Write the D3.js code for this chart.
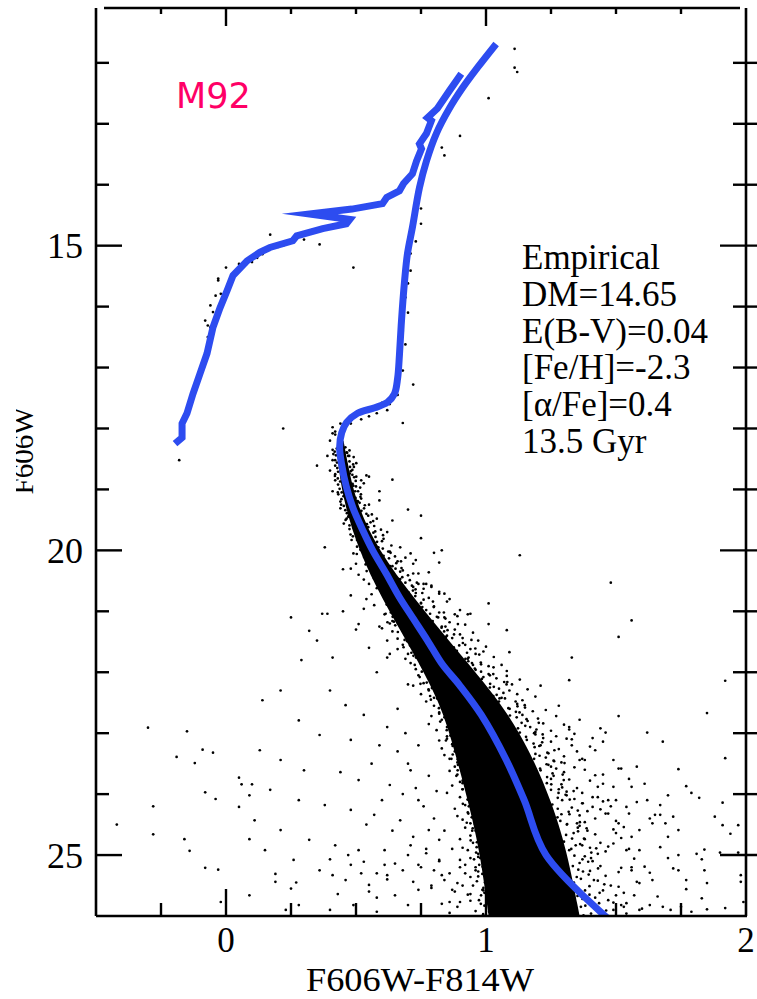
<!DOCTYPE html>
<html>
<head>
<meta charset="utf-8">
<script src="https://cdn.jsdelivr.net/npm/d3@7/dist/d3.min.js"></script>
<style>
  html, body { margin: 0; padding: 0; background: #fff; }
  svg { display: block; }
</style>
</head>
<body>
<svg id="cmd" width="757" height="999"></svg>
<script>
// ---- Axis settings ----
const colourDomain = [-0.5, 2.0];
const magDomain = [11.1, 26.0];
const colourTickLabels = [0, 1, 2];
const magTickLabels = [15, 20, 25];
const colourMinorTicks = [-0.25, 0, 0.25, 0.5, 0.75, 1, 1.25, 1.5, 1.75];
const magMinorTicks = [12, 13, 14, 15, 16, 17, 18, 19, 20, 21, 22, 23, 24, 25];

// ---- Isochrone: main sequence, subgiant and red giant branch ----
const isoColour = [1.519, 1.231, 1.147, 1.078, 0.982, 0.898, 0.832, 0.775, 0.717, 0.667, 0.616, 0.564,
  0.526, 0.487, 0.463, 0.444, 0.437, 0.445, 0.464, 0.506, 0.572, 0.621, 0.648, 0.660, 0.667, 0.675,
  0.687, 0.698, 0.717, 0.744, 0.771, 0.809, 0.859, 0.910, 0.967, 1.039];
const isoMag = [26.23, 25.0, 24.10, 23.44, 22.70, 22.21, 21.87, 21.48, 21.10, 20.77, 20.38, 20.00,
  19.67, 19.29, 18.96, 18.57, 18.31, 18.07, 17.90, 17.75, 17.66, 17.57, 17.43, 17.18, 16.80, 16.23,
  15.57, 15.13, 14.70, 14.05, 13.61, 13.16, 12.75, 12.41, 12.08, 11.69];

// ---- Isochrone: asymptotic giant branch and horizontal branch ----
const hbColour = [0.905, 0.859, 0.813, 0.775, 0.790, 0.771, 0.744, 0.752, 0.733, 0.717, 0.683, 0.667,
  0.618, 0.602, 0.484, 0.322, 0.476, 0.463, 0.372, 0.272, 0.257, 0.169, 0.130, 0.081, 0.027, 0.004,
  -0.023, -0.050, -0.073, -0.100, -0.127, -0.150, -0.169, -0.169, -0.196];
const hbMag = [12.18, 12.46, 12.75, 12.90, 12.95, 13.16, 13.33, 13.41, 13.61, 13.82, 13.98, 14.10,
  14.21, 14.31, 14.40, 14.48, 14.57, 14.64, 14.72, 14.84, 14.92, 15.03, 15.11, 15.25, 15.49, 15.74,
  16.02, 16.34, 16.77, 17.10, 17.43, 17.75, 17.92, 18.15, 18.25];

// ---- Crowded main-sequence core (stars merge into solid black) ----
const coreMag  = [18.2, 18.5, 19.2, 20.0, 20.8, 21.6, 22.5, 23.3, 24.1, 24.9, 26.0];
const coreBlue = [0.428, 0.428, 0.452, 0.51, 0.60, 0.71, 0.825, 0.88, 0.93, 0.975, 1.01];
const coreRed  = [0.452, 0.465, 0.498, 0.585, 0.725, 0.88, 1.06, 1.17, 1.25, 1.31, 1.36];

// ---- Stars: [F606W-F814W, F606W] ----
const giantStars = [[1.11,11.77],[1.11,12.08],[1.12,12.15],[1.01,12.58],[0.90,13.20],[0.83,13.39],[0.84,13.52],
  [0.75,14.39],[0.75,14.64],[0.73,14.93],[0.71,15.13],[0.71,15.41],[0.70,15.62],[0.69,15.85],[0.70,16.10],
  [0.68,16.40],[0.69,16.62],[0.67,16.95],[0.66,17.20],[0.65,17.35],[0.63,17.50],[0.60,17.58],[0.58,17.62],
  [0.66,17.45],[0.68,17.05],[0.72,17.28],[0.55,17.70],[0.52,17.74],[0.50,17.80],
  [0.17,14.82],[0.16,15.03],[0.22,15.00],[0.36,14.98],[0.12,15.20],[0.08,15.30],[0.10,15.27],[0.00,15.36],
  [-0.03,15.54],[0.49,15.36],[-0.03,15.57],[-0.02,15.79],[-0.04,15.82],[-0.06,15.98],[-0.05,16.09],
  [-0.08,16.23],[-0.07,16.31],[-0.06,16.34],[-0.07,16.50],[-0.18,18.52],[0.05,15.30],[0.14,15.14],
  [0.20,15.02],[0.24,14.95],[0.30,14.90],[0.22,18.00]];

const turnoffStars = [[0.41,18.08],[0.42,18.10],[0.35,18.61],[0.41,18.52],[0.40,18.69],[0.42,18.85],[0.41,19.03],
  [0.44,19.31],[0.38,19.95],[0.45,20.31],[0.48,20.74],[0.37,21.04],[0.39,21.04],[0.32,21.32],[0.53,20.96],
  [0.51,21.21],[0.41,21.76],[0.59,21.25],[0.62,21.48],[0.62,21.76],[0.55,18.79],[0.64,18.84],[0.59,19.03],
  [0.70,19.33],[0.75,19.43],[0.75,19.80],[0.80,20.04],[0.83,20.00],[0.82,20.20],[0.78,20.36],[0.77,20.55],
  [0.82,20.71],[0.84,20.71],[0.90,20.98],[0.94,21.04],[1.01,20.87],[1.01,21.21],[1.08,21.31],[1.09,21.67],
  [1.13,20.08],[0.68,17.91],[0.54,18.77],[0.59,19.18],[0.64,19.51],[0.67,19.95],[0.73,20.16],[0.72,20.38],
  [0.76,20.55],[0.79,20.60],[0.86,20.80],[0.88,21.05],
  [0.41,18.35],[0.42,18.75],[0.43,19.05],[0.47,19.45],[0.49,19.62],[0.51,19.80],[0.47,18.45],[0.48,18.70],
  [0.50,18.95],[0.52,19.15],[0.54,19.40],[0.57,19.60],[0.60,19.85],[0.44,19.20],[0.46,19.50],[0.53,18.90],
  [0.55,19.25],[0.58,19.48],[0.62,19.70],[0.40,18.20],[0.39,18.45],[0.42,18.05],[0.45,18.00],[0.48,17.92],
  [0.52,17.85],[0.55,17.80],[0.58,17.75],[0.62,17.70],[0.63,17.60],[0.41,17.98],[0.44,17.92]];

// stars along the ragged edges of the crowded core
const edgeStars = [
  [.426,18.33],[.418,18.38],[.459,18.31],[.475,18.36],[.464,18.39],[.423,18.44],[.413,18.42],[.491,18.47],[.474,18.45],[.466,18.40],
  [.427,18.56],[.420,18.52],[.489,18.59],[.475,18.54],[.501,18.57],[.420,18.61],[.428,18.65],[.486,18.68],[.477,18.63],[.492,18.63],
  [.419,18.78],[.431,18.71],[.486,18.76],[.501,18.79],[.476,18.74],[.430,18.82],[.439,18.87],[.520,18.85],[.493,18.80],[.499,18.86],
  [.431,18.92],[.437,18.99],[.490,18.94],[.516,18.97],[.487,18.91],[.445,19.05],[.432,19.08],[.508,19.03],[.497,19.03],[.519,19.08],
  [.452,19.11],[.444,19.16],[.506,19.19],[.498,19.14],[.517,19.12],[.453,19.27],[.443,19.25],[.508,19.20],[.534,19.26],[.514,19.22],
  [.465,19.39],[.459,19.34],[.516,19.37],[.531,19.31],[.521,19.35],[.464,19.48],[.472,19.43],[.547,19.43],[.522,19.48],[.561,19.41],
  [.453,19.56],[.475,19.59],[.556,19.54],[.566,19.52],[.542,19.57],[.475,19.65],[.491,19.60],[.596,19.66],[.547,19.62],[.574,19.69],
  [.479,19.74],[.488,19.77],[.567,19.71],[.604,19.75],[.575,19.78],[.504,19.83],[.483,19.83],[.571,19.88],[.606,19.81],[.581,19.86],
  [.517,19.99],[.504,19.94],[.636,19.92],[.603,19.97],[.586,19.95],[.521,20.00],[.503,20.06],[.624,20.02],[.606,20.09],[.633,20.04],
  [.542,20.17],[.531,20.11],[.605,20.15],[.673,20.18],[.627,20.13],[.537,20.23],[.553,20.28],[.655,20.21],[.631,20.26],[.675,20.29],
  [.541,20.34],[.563,20.32],[.643,20.37],[.670,20.35],[.652,20.30],[.569,20.46],[.585,20.42],[.707,20.49],[.678,20.44],[.663,20.47],
  [.578,20.51],[.587,20.55],[.715,20.58],[.690,20.53],[.734,20.53],[.608,20.68],[.587,20.61],[.719,20.66],[.702,20.69],[.729,20.64],
  [.627,20.72],[.614,20.77],[.728,20.75],[.755,20.70],[.710,20.76],[.636,20.82],[.618,20.89],[.796,20.84],[.750,20.87],[.760,20.81],
  [.659,20.95],[.648,20.98],[.755,20.93],[.799,20.93],[.750,20.98],[.645,21.01],[.667,21.06],[.811,21.09],[.785,21.04],[.838,21.02],
  [.646,21.17],[.677,21.15],[.816,21.10],[.795,21.16],[.844,21.12],[.681,21.29],[.703,21.24],[.829,21.27],[.892,21.21],[.844,21.25],
  [.688,21.38],[.702,21.33],[.839,21.33],[.877,21.38],[.852,21.31],[.728,21.46],[.697,21.49],[.910,21.44],[.846,21.42],[.944,21.47],
  [.748,21.55],[.730,21.50],[.897,21.56],[.911,21.52],[.876,21.59],[.757,21.64],[.732,21.67],[.959,21.61],[.888,21.65],[.927,21.68],
  [.780,21.73],[.764,21.73],[.921,21.78],[.974,21.71],[.933,21.76],[.766,21.89],[.788,21.84],[.932,21.82],[.981,21.87],[.946,21.85],
  [.764,21.90],[.795,21.96],[1.029,21.92],[.981,21.99],[.957,21.94],[.796,22.07],[.818,22.01],[1.015,22.05],[.990,22.08],[1.028,22.03],
  [.802,22.13],[.816,22.18],[.984,22.11],[1.082,22.16],[1.016,22.19],[.839,22.24],[.808,22.22],[1.050,22.27],[1.015,22.25],[1.079,22.20],
  [.857,22.36],[.839,22.32],[1.028,22.39],[1.067,22.34],[1.041,22.37],[.864,22.41],[.839,22.45],[1.114,22.48],[1.073,22.43],[1.052,22.43],
  [.887,22.58],[.871,22.51],[1.121,22.56],[1.086,22.59],[1.149,22.54],[.867,22.62],[.889,22.67],[1.115,22.65],[1.091,22.60],[1.129,22.66],
  [.859,22.72],[.890,22.79],[1.118,22.74],[1.156,22.77],[1.092,22.71],[.886,22.85],[.908,22.88],[1.203,22.83],[1.137,22.83],[1.151,22.88],
  [.885,22.91],[.899,22.96],[1.130,22.99],[1.194,22.94],[1.123,22.92],[.915,23.07],[.878,23.05],[1.185,23.00],[1.154,23.06],[1.218,23.02],
  [.928,23.19],[.906,23.14],[1.183,23.17],[1.157,23.11],[1.216,23.15],[.927,23.28],[.897,23.23],[1.187,23.23],[1.263,23.28],[1.205,23.21],
  [.946,23.36],[.927,23.39],[1.190,23.34],[1.236,23.32],[1.206,23.37],[.919,23.45],[.945,23.40],[1.262,23.46],[1.185,23.42],[1.302,23.49],
  [.908,23.54],[.945,23.57],[1.233,23.51],[1.250,23.55],[1.208,23.58],[.937,23.63],[.963,23.63],[1.295,23.68],[1.210,23.61],[1.256,23.66],
  [.933,23.79],[.950,23.74],[1.235,23.72],[1.299,23.77],[1.250,23.75],[.968,23.80],[.931,23.86],[1.234,23.82],[1.293,23.89],[1.251,23.84],
  [.981,23.97],[.959,23.91],[1.337,23.95],[1.279,23.98],[1.250,23.93],[.978,24.03],[.948,24.08],[1.306,24.01],[1.276,24.06],[1.322,24.09],
  [.996,24.14],[.977,24.12],[1.255,24.17],[1.372,24.15],[1.293,24.10],[.968,24.26],[.994,24.22],[1.318,24.29],[1.276,24.24],[1.353,24.27],
  [.955,24.31],[.992,24.35],[1.275,24.38],[1.321,24.33],[1.290,24.33],[.983,24.48],[1.009,24.41],[1.361,24.46],[1.312,24.49],[1.286,24.44],
  [.978,24.52],[.995,24.57],[1.353,24.55],[1.311,24.50],[1.387,24.56],[1.012,24.62],[.975,24.69],[1.337,24.64],[1.308,24.67],[1.354,24.61],
  [1.023,24.75],[1.001,24.78],[1.331,24.73],[1.377,24.73],[1.300,24.78],[1.019,24.81],[.989,24.86],[1.424,24.89],[1.345,24.84],[1.362,24.82],
  [1.036,24.97],[1.017,24.95],[1.328,24.90],[1.405,24.96],[1.320,24.92],[1.006,25.09],[1.032,25.04],[1.371,25.07],[1.340,25.01],[1.404,25.05],
  [.990,25.18],[1.027,25.13],[1.360,25.13],[1.334,25.18],[1.393,25.11],[1.016,25.26],[1.042,25.29],[1.355,25.24],[1.431,25.22],[1.373,25.27],
  [1.009,25.35],[1.026,25.30],[1.349,25.36],[1.395,25.32],[1.365,25.39],[1.041,25.44],[1.004,25.47],[1.415,25.41],[1.338,25.45],[1.455,25.48],
  [1.050,25.53],[1.028,25.53],[1.381,25.58],[1.398,25.51],[1.356,25.56],[1.043,25.69],[1.013,25.64],[1.437,25.62],[1.352,25.67],[1.398,25.65],
  [1.058,25.70],[1.039,25.76],[1.371,25.72],[1.435,25.79],[1.386,25.74],[1.028,25.87],[1.054,25.81],[1.365,25.85],[1.424,25.88],[1.382,25.83],
  [1.012,25.93],[1.049,25.98],[1.462,25.91],[1.404,25.96],[1.375,25.99]];

// the populous blue flank of the lower main sequence
const blueFlankStars = [
  [.634,21.02],[.651,21.07],[.614,21.04],[.641,21.09],[.674,21.11],[.640,21.16],[.662,21.13],[.621,21.18],
  [.687,21.25],[.662,21.20],[.675,21.27],[.651,21.23],[.696,21.39],[.681,21.32],[.698,21.36],[.661,21.34],
  [.704,21.48],[.721,21.42],[.687,21.47],[.709,21.44],[.683,21.59],[.733,21.51],[.708,21.56],[.721,21.53],
  [.713,21.68],[.743,21.65],[.728,21.60],[.745,21.67],[.721,21.73],[.748,21.79],[.765,21.72],[.731,21.76],
  [.767,21.84],[.726,21.88],[.776,21.82],[.751,21.87],[.777,21.94],[.753,21.99],[.783,21.91],[.768,21.96],
  [.792,22.03],[.745,22.08],[.779,22.05],[.801,22.00],[.772,22.17],[.800,22.13],[.748,22.19],[.811,22.12],
  [.792,22.26],[.809,22.24],[.779,22.28],[.816,22.22],[.811,22.37],[.832,22.34],[.785,22.39],[.819,22.31],
  [.855,22.46],[.812,22.43],[.840,22.48],[.788,22.45],[.864,22.50],[.832,22.57],[.849,22.53],[.819,22.59],
  [.864,22.62],[.846,22.66],[.867,22.64],[.820,22.68],[.861,22.72],[.883,22.77],[.840,22.74],[.868,22.79],
  [.824,22.81],[.887,22.86],[.855,22.83],[.872,22.88],[.849,22.95],[.886,22.90],[.868,22.97],[.889,22.93],
  [.850,23.09],[.884,23.02],[.906,23.06],[.863,23.04],[.898,23.18],[.846,23.12],[.909,23.17],[.877,23.14],
  [.902,23.29],[.872,23.21],[.909,23.26],[.891,23.23],[.919,23.38],[.872,23.35],[.906,23.30],[.928,23.37],
  [.891,23.43],[.919,23.49],[.867,23.42],[.930,23.46],[.905,23.54],[.922,23.58],[.892,23.52],[.929,23.57],
  [.917,23.64],[.938,23.69],[.891,23.61],[.925,23.66],[.953,23.73],[.910,23.78],[.938,23.75],[.886,23.70],
  [.955,23.87],[.923,23.83],[.940,23.89],[.910,23.82],[.954,23.96],[.936,23.94],[.957,23.98],[.910,23.92],
  [.950,24.07],[.972,24.04],[.929,24.09],[.957,24.01],[.911,24.16],[.974,24.13],[.942,24.18],[.959,24.15],
  [.934,24.20],[.971,24.27],[.953,24.23],[.974,24.29],[.932,24.32],[.966,24.36],[.988,24.34],[.945,24.38],
  [.978,24.42],[.926,24.47],[.989,24.44],[.957,24.49],[.979,24.51],[.949,24.56],[.986,24.53],[.968,24.58],
  [.994,24.65],[.947,24.60],[.981,24.67],[1.003,24.63],[.965,24.79],[.993,24.72],[.941,24.76],[1.004,24.74],
  [.977,24.88],[.994,24.82],[.964,24.87],[1.001,24.84],[.988,24.99],[1.009,24.91],[.962,24.96],[.996,24.93],
  [1.021,25.08],[.978,25.05],[1.006,25.00],[.954,25.07],[1.019,25.13],[.987,25.19],[1.004,25.12],[.974,25.16],
  [1.014,25.24],[.996,25.28],[1.017,25.22],[.970,25.27],[1.007,25.34],[1.029,25.39],[.986,25.31],[1.014,25.36],
  [.965,25.43],[1.028,25.48],[.996,25.45],[1.013,25.40],[.986,25.57],[1.023,25.53],[1.005,25.59],[1.026,25.52],
  [.981,25.66],[1.015,25.64],[1.037,25.68],[.994,25.62],[1.025,25.77],[.973,25.74],[1.036,25.79],[1.004,25.71],
  [1.024,25.86],[.994,25.83],[1.031,25.88],[1.013,25.85],[1.036,25.90],[.989,25.97],[1.023,25.93],[1.045,25.99]];

const msHaloStars = [
  [0.49,20.05],[0.50,20.22],[0.51,20.40],[0.53,20.48],[0.48,20.30],
  [0.63,20.02],[0.65,20.10],[0.66,20.18],[0.64,20.26],[0.68,20.33],[0.70,20.41],[0.67,20.47],[0.72,20.22],[0.74,20.38],[0.69,20.12],[0.71,20.05],[0.62,20.30],
  [0.55,20.55],[0.56,20.72],[0.57,20.90],[0.58,20.62],[0.54,20.80],
  [0.74,20.55],[0.76,20.63],[0.73,20.70],[0.78,20.78],[0.75,20.86],[0.80,20.92],[0.77,20.98],[0.82,20.68],[0.85,20.84],[0.72,20.60],[0.79,20.58],
  [0.61,21.05],[0.63,21.20],[0.64,21.33],[0.66,21.45],[0.60,21.28],[0.67,21.12],
  [0.82,21.02],[0.84,21.10],[0.86,21.18],[0.83,21.25],[0.88,21.30],[0.90,21.38],[0.87,21.44],[0.92,21.22],[0.95,21.35],[0.89,21.08],[0.97,21.48],[0.85,21.40],[0.93,21.05],
  [0.68,21.55],[0.70,21.70],[0.71,21.85],[0.73,21.95],[0.69,21.78],[0.66,21.62],[0.72,21.60],
  [0.92,21.55],[0.94,21.62],[0.96,21.70],[0.99,21.66],[0.93,21.78],[0.98,21.84],[1.01,21.90],[0.96,21.96],[1.03,21.75],[1.06,21.88],[1.00,21.58],[1.08,21.98],[0.95,21.88],
  [0.74,22.05],[0.76,22.18],[0.78,22.30],[0.80,22.42],[0.75,22.36],[0.72,22.22],[0.79,22.10],[0.77,22.48],
  [1.01,22.03],[1.04,22.10],[1.07,22.16],[1.03,22.24],[1.09,22.30],[1.12,22.36],[1.06,22.42],[1.14,22.46],[1.10,22.20],[1.16,22.28],[1.19,22.40],[1.08,22.06],[1.13,22.12],[1.21,22.22],[1.05,22.48],
  [0.80,22.55],[0.82,22.66],[0.83,22.78],[0.85,22.90],[0.79,22.72],[0.81,22.95],[0.84,22.60],[0.78,22.85],
  [1.12,22.52],[1.15,22.58],[1.18,22.64],[1.14,22.70],[1.20,22.76],[1.22,22.84],[1.17,22.90],[1.25,22.96],[1.23,22.62],[1.27,22.72],[1.30,22.86],[1.19,22.98],[1.32,22.94],[1.28,22.55],[1.16,22.80],
  [0.85,23.05],[0.87,23.18],[0.88,23.30],[0.86,23.42],[0.83,23.25],[0.89,23.48],[0.82,23.12],[0.84,23.36],
  [1.19,23.02],[1.22,23.08],[1.25,23.14],[1.21,23.20],[1.28,23.26],[1.24,23.33],[1.30,23.38],[1.26,23.45],[1.33,23.10],[1.35,23.30],[1.29,23.48],[1.37,23.42],[1.23,23.40],[1.40,23.22],[1.27,23.05],
  [0.88,23.55],[0.89,23.68],[0.90,23.80],[0.91,23.92],[0.86,23.62],[0.87,23.86],[0.92,23.74],[0.85,23.98],
  [1.24,23.52],[1.27,23.58],[1.30,23.64],[1.26,23.70],[1.32,23.76],[1.29,23.84],[1.35,23.90],[1.31,23.96],[1.38,23.60],[1.40,23.78],[1.34,23.56],[1.43,23.88],[1.37,23.98],[1.28,23.92],[1.45,23.68],
  [0.90,24.05],[0.92,24.18],[0.93,24.30],[0.91,24.42],[0.88,24.24],[0.94,24.48],[0.89,24.36],[0.95,24.12],
  [1.31,24.02],[1.34,24.08],[1.37,24.15],[1.33,24.22],[1.39,24.28],[1.36,24.35],[1.42,24.40],[1.38,24.46],[1.45,24.12],[1.47,24.32],[1.41,24.05],[1.50,24.44],[1.44,24.25],[1.35,24.48],[1.48,24.20],
  [0.92,24.55],[0.94,24.68],[0.95,24.80],[0.93,24.92],[0.90,24.74],[0.96,24.60],[0.91,24.88],[0.97,24.98],
  [1.36,24.52],[1.39,24.60],[1.42,24.66],[1.38,24.74],[1.44,24.80],[1.40,24.88],[1.46,24.94],[1.49,24.58],[1.52,24.72],[1.47,24.86],[1.55,24.90],[1.43,24.98],[1.50,24.64],[1.37,24.84],[1.53,24.54],
  [0.94,25.05],[0.96,25.20],[0.97,25.35],[0.95,25.50],[0.93,25.65],[0.98,25.80],[0.96,25.92],[0.92,25.30],[0.99,25.58],[0.94,25.75],
  [1.38,25.02],[1.41,25.10],[1.44,25.18],[1.40,25.26],[1.46,25.34],[1.43,25.42],[1.48,25.50],[1.45,25.58],[1.50,25.66],[1.47,25.74],[1.52,25.82],[1.49,25.90],[1.54,25.96],[1.56,25.20],[1.58,25.44],[1.53,25.62],[1.60,25.88],[1.42,25.70],[1.57,25.06],[1.51,25.28],
  [0.62,22.90],[0.66,23.30],[0.70,23.50],[0.73,23.90],[0.76,24.20],[0.80,24.40],[0.68,24.00],[0.72,24.70],[0.77,24.90],[0.82,25.10],[0.86,25.30],[0.79,25.50],[0.83,25.80],[0.88,25.60],[0.75,25.20],[0.70,25.00],[0.64,24.60],[0.60,24.10],[0.56,23.50],[0.66,22.60],[0.70,22.20],[0.58,22.00],[0.55,21.60],[0.50,21.30],[0.45,21.00],[0.63,21.70],[0.69,23.00],[0.74,23.20],[0.78,23.70],[0.81,23.95],[0.84,24.60],[0.87,24.90],[0.90,25.20],[0.91,25.50],[0.89,25.85],[0.86,25.95],[0.62,25.40],[0.58,25.70],[0.52,25.30],[0.54,24.50]];

const redFieldStars = [[1.33,21.76],[1.32,22.13],[1.51,22.72],[1.36,22.78],[1.62,22.99],[1.68,23.14],[1.92,22.14],[1.85,22.67],
  [1.92,23.41],[1.74,23.59],[1.77,23.87],[1.79,23.98],[1.82,24.06],[1.91,24.14],[1.88,24.37],[1.91,24.51],[1.94,24.65],
  [1.97,24.51],[1.90,24.96],[1.97,24.96],[1.98,25.33],[1.98,25.44],[1.99,25.77],[1.92,25.87],[1.84,24.91],[1.83,25.07],
  [1.81,24.98],[1.84,25.25],[1.85,25.46],[1.83,25.71],[1.85,25.89],[1.79,25.93],[1.75,25.85],[1.77,25.41],[1.77,25.56],
  [1.74,25.25],[1.72,25.22],[1.74,25.00],[1.70,25.05],[1.67,24.87],[1.70,24.70],[1.74,24.59],[1.72,24.37],[1.67,24.34],
  [1.65,24.34],[1.63,24.40],[1.69,24.48],[1.67,24.18],[1.70,24.02],[1.61,23.83],[1.62,24.10],[1.64,24.48],[1.59,24.59],
  [1.55,24.32],[1.54,24.21],[1.58,24.13],[1.56,23.88],[1.50,24.10],[1.49,23.88],[1.55,23.75],[1.51,23.58],[1.52,23.58],
  [1.58,23.55],[1.42,23.69],[1.49,23.44],[1.42,23.28],[1.36,23.44],[1.45,23.14],[1.41,23.08],[1.44,22.92],[1.46,22.99],
  [1.32,22.90],[1.34,23.01],[1.31,23.09],[1.33,23.20],[1.38,23.44],[1.45,23.83],[1.43,24.05],[1.47,24.10],[1.41,24.21],
  [1.46,24.32],[1.51,24.48],[1.56,24.70],[1.59,24.92],[1.54,24.92],[1.49,24.81],[1.52,25.21],[1.56,25.25],[1.61,25.19],
  [1.63,25.29],[1.64,25.41],[1.59,25.46],[1.57,25.66],[1.66,25.68],[1.63,25.82],[1.68,25.85],[1.71,25.90],[1.54,25.79],
  [1.59,25.90],[1.51,25.52],[1.53,25.85],[1.49,25.78],[1.48,20.53],[1.56,21.15],[1.51,21.42]];

const blueFieldStars = [[0.19,25.31],[0.19,25.44],[0.25,25.55],[0.27,25.45],[0.40,25.07],[0.41,25.33],[0.43,25.64],
  [0.48,25.16],[0.47,25.00],[0.53,25.11],[0.55,25.60],[0.58,25.93],[0.58,25.30],[0.61,25.16],[0.62,25.33],[0.65,25.14],
  [0.68,25.25],[0.70,25.82],[0.72,25.44],[0.74,25.16],[0.77,24.97],[0.79,25.54],[0.80,25.25],[0.82,25.08],[0.83,25.33],
  [0.86,25.77],[0.87,25.57],[0.89,25.46],[0.90,25.77],[0.92,25.16],[0.94,25.36],[0.94,25.64],[0.96,25.25],[0.97,25.03],
  [0.99,25.54],
  [-0.30,22.91],[-0.15,22.97],[-0.19,23.39],[-0.09,23.27],[-0.05,23.32],[-0.12,23.49],[0.05,23.73],[0.06,23.84],
  [0.10,23.84],[0.09,24.02],[-0.08,23.97],[-0.04,24.08],[0.05,24.21],[-0.28,24.20],[-0.42,24.50],[-0.28,24.66],
  [-0.16,24.74],[-0.14,24.93],[0.09,24.74],[-0.08,25.21],[-0.03,25.24],[-0.02,25.77],
  [0.25,21.10],[0.35,21.48],[0.29,21.80],[0.21,22.30],[0.40,22.30],[0.14,22.46],[0.46,22.54],[0.53,22.70],[0.28,22.79],
  [0.36,23.03],[0.48,23.11],[0.59,23.20],[0.13,23.28],[0.21,23.44],[0.30,23.61],[0.44,23.64],[0.51,23.77],[0.63,23.85],
  [0.71,23.61],[0.17,23.93],[0.28,24.10],[0.38,24.18],[0.48,24.26],[0.57,24.34],[0.67,24.43],[0.74,24.10],[0.78,24.59],
  [0.11,24.43],[0.21,24.59],[0.32,24.75],[0.42,24.84],[0.51,24.92],[0.61,24.92],[0.71,24.84],[0.82,24.75],[0.15,24.92],
  [0.26,25.08],[0.36,25.25],[0.46,25.41],[0.55,25.49],[0.65,25.66],[0.74,25.57],[0.84,25.41],[0.90,25.08],[0.28,25.82],
  [0.40,25.90],[0.49,25.82],[0.09,25.66],[0.23,25.90]];

// ---- Panel text ----
const clusterName = "M92";
const fitLines = ["Empirical", "DM=14.65", "E(B-V)=0.04", "[Fe/H]=-2.3", "[\u03b1/Fe]=0.4", "13.5 Gyr"];
const xTitle = "F606W-F814W";
const yTitle = "F606W";

// ---- Drawing ----
const svg = d3.select("#cmd");
const L = 96, R = 746, T = 8, B = 916;
const x = d3.scaleLinear().domain(colourDomain).range([L, R]);
const y = d3.scaleLinear().domain(magDomain).range([T, B]);
const serif = "'Liberation Serif', 'Times New Roman', serif";

svg.append("rect").attr("width", 757).attr("height", 999).attr("fill", "#fff");

const defs = svg.append("defs");
defs.append("clipPath").attr("id", "plotClip")
  .append("rect").attr("x", L).attr("y", T).attr("width", R - L).attr("height", B - T);
defs.append("clipPath").attr("id", "yTitleClip")
  .append("rect").attr("x", 16).attr("y", 0).attr("width", 80).attr("height", 999);

const plot = svg.append("g").attr("clip-path", "url(#plotClip)");

// crowded main-sequence core
const core = d3.area()
  .y((d, i) => y(coreMag[i]))
  .x0((d, i) => x(coreBlue[i]))
  .x1((d, i) => x(coreRed[i]))
  .curve(d3.curveBasis);
plot.append("path").attr("d", core(coreMag)).attr("fill", "#000");

// stars
const allStars = [].concat(giantStars, turnoffStars, edgeStars, blueFlankStars, msHaloStars, redFieldStars, blueFieldStars);
plot.append("g").selectAll("circle").data(allStars).join("circle")
  .attr("cx", d => x(d[0])).attr("cy", d => y(d[1])).attr("r", 1.35).attr("fill", "#000");

// isochrone
const blue = "#2d4cf0";
plot.append("path")
  .attr("d", d3.line().x(d => x(d[0])).y(d => y(d[1])).curve(d3.curveCatmullRom.alpha(0.5))(isoColour.map((c, i) => [c, isoMag[i]])))
  .attr("fill", "none").attr("stroke", blue).attr("stroke-width", 7).attr("stroke-linejoin", "round");
plot.append("path")
  .attr("d", d3.line().x(d => x(d[0])).y(d => y(d[1])).curve(d3.curveLinear)(hbColour.map((c, i) => [c, hbMag[i]])))
  .attr("fill", "none").attr("stroke", blue).attr("stroke-width", 7)
  .attr("stroke-linejoin", "miter").attr("stroke-miterlimit", 12);

// frame
const frame = svg.append("g").attr("stroke", "#000").attr("stroke-width", 2.6).attr("fill", "none");
frame.append("line").attr("x1", L).attr("x2", L).attr("y1", T).attr("y2", B);
frame.append("line").attr("x1", L).attr("x2", R + 1).attr("y1", B).attr("y2", B);
frame.append("line").attr("x1", R).attr("x2", R).attr("y1", T).attr("y2", B);
frame.append("line").attr("x1", L + 8).attr("x2", R - 6).attr("y1", T).attr("y2", T);

const ticks = svg.append("g").attr("stroke", "#000").attr("stroke-width", 2.4);
const isMajorMag = m => magTickLabels.includes(m);
const isMajorCol = c => colourTickLabels.includes(c);
magMinorTicks.forEach(m => {
  const yy = y(m);
  ticks.append("line").attr("x1", L).attr("x2", L + (isMajorMag(m) ? 26 : 13)).attr("y1", yy).attr("y2", yy);
  ticks.append("line").attr("x1", R - (isMajorMag(m) ? 26 : 13)).attr("x2", 757).attr("y1", yy).attr("y2", yy);
});
colourMinorTicks.forEach(c => {
  const xx = x(c);
  ticks.append("line").attr("x1", xx).attr("x2", xx).attr("y1", B).attr("y2", B - (isMajorCol(c) ? 27 : 13));
  ticks.append("line").attr("x1", xx).attr("x2", xx).attr("y1", T).attr("y2", T + (isMajorCol(c) ? 18 : 6));
});

// tick labels
svg.append("g").selectAll("text").data(magTickLabels).join("text")
  .attr("x", 83).attr("y", d => y(d)).attr("dy", "0.35em").attr("text-anchor", "end")
  .attr("font-family", serif).attr("font-size", 36).text(d => d);
svg.append("g").selectAll("text").data(colourTickLabels).join("text")
  .attr("x", d => x(d)).attr("y", 952).attr("text-anchor", "middle")
  .attr("font-family", serif).attr("font-size", 35).text(d => d);

// axis titles
svg.append("text").attr("x", 420).attr("y", 991).attr("text-anchor", "middle")
  .attr("font-family", serif).attr("font-size", 33)
  .attr("textLength", 228).attr("lengthAdjust", "spacingAndGlyphs").text(xTitle);
svg.append("g").attr("clip-path", "url(#yTitleClip)")
  .append("text").attr("transform", "translate(33,451) rotate(-90)").attr("text-anchor", "middle")
  .attr("font-family", serif).attr("font-size", 29).text(yTitle);

// cluster name
svg.append("text").attr("x", 176).attr("y", 108)
  .attr("font-family", "'DejaVu Sans', sans-serif").attr("font-size", 35).attr("fill", "#ff0066").text(clusterName);

// fit parameters
svg.append("g").selectAll("text").data(fitLines).join("text")
  .attr("x", 522).attr("y", (d, i) => 269 + i * 36.8)
  .attr("font-family", serif).attr("font-size", 35).attr("fill", "#000").text(d => d);
</script>
</body>
</html>
